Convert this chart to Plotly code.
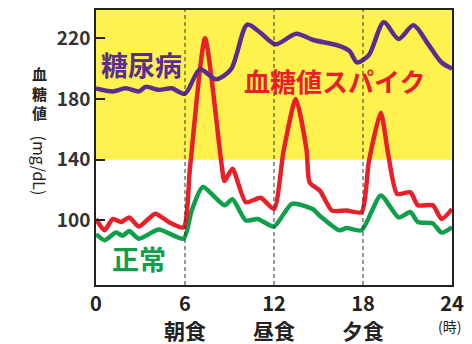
import plotly.graph_objects as go

# Hours of the day and blood glucose (mg/dL) for each profile
hours_diabetes = [0, 1.13, 2.0, 2.9, 3.35, 4.23, 5.1, 6.0, 7.0, 8.1, 9.1, 10.2, 11.1, 12.1,
                  13.5, 14.6, 16.4, 17.1, 17.6, 18.4, 19.4, 20.4, 21.4, 22.4, 23.3, 24.0]
glucose_diabetes = [187, 185, 187, 185, 188, 186, 187, 183.5, 199.5, 193, 199.5, 229, 223.5, 216,
                    223, 219, 215, 211.5, 204, 209, 230.5, 219.5, 228.5, 216, 204, 200]

hours_spike = [0, 0.58, 1.13, 1.69, 2.24, 2.9, 4.0, 4.9, 5.9, 6.34, 7.35, 8.44, 8.66, 9.2,
               10.1, 11.1, 12.0, 12.65, 13.47, 14.2, 14.4, 15.1, 15.9, 16.9, 17.9, 18.4,
               19.2, 19.7, 20.3, 21.2, 21.7, 22.7, 23.3, 24.0]
glucose_spike = [101, 93.5, 101, 99, 102, 96, 104.5, 99, 95.5, 135, 220, 139, 126, 134,
                 112, 115, 107.5, 146, 180, 146, 125, 119.5, 106.5, 106.5, 105.5, 139,
                 171, 143.5, 117.5, 118.5, 110, 110, 101, 107.5]

hours_normal = [0, 0.58, 1.35, 1.8, 2.24, 2.9, 4.23, 5.9, 6.45, 7.2, 8.66, 9.2, 10.1, 10.9,
                12.0, 13.2, 14.6, 15.1, 16.4, 16.9, 17.9, 19.2, 20.4, 21.2, 21.7, 22.7, 23.3, 24.0]
glucose_normal = [91, 87, 92, 90, 93, 88, 94, 88, 106.5, 122, 110, 114, 100, 101,
                  96, 111, 107.5, 103, 93.5, 95, 93.5, 116.5, 102, 105.5, 99, 98, 92, 95.5]

x_ticks = [0, 6, 12, 18, 24]
y_ticks = [100, 140, 180, 220]
meal_hours = [6, 12, 18]
meal_labels = ["朝食", "昼食", "夕食"]
y_title_chars = ["血", "糖", "値"]
y_title_unit = "(mg/dL)"
high_threshold = 140

Y_RANGE = [57.5, 238.6]
FONT = "Noto Sans CJK JP"
PURPLE = "#5a2d8e"
RED = "#e8202a"
GREEN = "#0f9f4b"
YELLOW = "#fff24f"
INK = "#222222"

fig = go.Figure()

fig.add_trace(go.Scatter(x=hours_normal, y=glucose_normal, mode="lines",
                         line=dict(color=GREEN, width=4.5, shape="spline", smoothing=0.6)))
fig.add_trace(go.Scatter(x=hours_spike, y=glucose_spike, mode="lines",
                         line=dict(color=RED, width=4.5, shape="spline", smoothing=0.6)))
fig.add_trace(go.Scatter(x=hours_diabetes, y=glucose_diabetes, mode="lines",
                         line=dict(color=PURPLE, width=4.5, shape="spline", smoothing=0.8)))

# High-glucose band above the threshold
fig.add_shape(type="rect", xref="x", yref="y", x0=0, x1=24, y0=high_threshold, y1=Y_RANGE[1],
              fillcolor=YELLOW, line=dict(width=0), layer="below")

# Meal times
for h in meal_hours:
    fig.add_shape(type="line", xref="x", yref="y", x0=h, x1=h, y0=Y_RANGE[0], y1=Y_RANGE[1],
                  line=dict(color="#333333", width=1, dash="4px,3px"), layer="above")


def label(x, y, text, size, color, xref="paper", angle=0):
    return dict(x=x, y=y, xref=xref, yref="paper", text=text, showarrow=False,
                xanchor="center", yanchor="middle", textangle=angle,
                font=dict(family=FONT, size=size, color=color))


annotations = [
    label(0.128, 0.80, "<b>糖尿病</b>", 27, PURPLE),
    label(0.67, 0.742, "<b>血糖値スパイク</b>", 26, RED),
    label(0.122, 0.097, "<b>正常</b>", 27, GREEN),
    label(23.8, -0.148, "(時)", 14, INK, xref="x"),
    # Vertical axis title: stacked kanji, then the unit turned sideways
    label(-0.158, 0.70, "<b>" + "<br>".join(y_title_chars) + "</b>", 15, INK),
    label(-0.158, 0.435, y_title_unit, 16, INK, angle=90),
]
for h, lab in zip(meal_hours, meal_labels):
    annotations.append(label(h, -0.162, f"<b>{lab}</b>", 21, INK, xref="x"))

fig.update_layout(
    width=472, height=344,
    margin=dict(l=96, r=14, t=8, b=59),
    paper_bgcolor="white", plot_bgcolor="white",
    showlegend=False,
    annotations=annotations,
    xaxis=dict(range=[0, 24], tickvals=x_ticks, ticktext=[str(v) for v in x_ticks],
               showgrid=False, zeroline=False, ticks="",
               showline=True, mirror=True, linecolor=INK, linewidth=1.5,
               tickfont=dict(family=FONT, size=20, color=INK, weight="bold")),
    yaxis=dict(range=Y_RANGE, tickvals=y_ticks, ticktext=[str(v) for v in y_ticks],
               showgrid=False, zeroline=False, ticks="inside", ticklen=9, tickwidth=2,
               tickcolor=INK,
               showline=True, mirror=True, linecolor=INK, linewidth=1.5,
               tickfont=dict(family=FONT, size=19, color="#333333", weight="bold")),
)

fig.write_html("out.html")
